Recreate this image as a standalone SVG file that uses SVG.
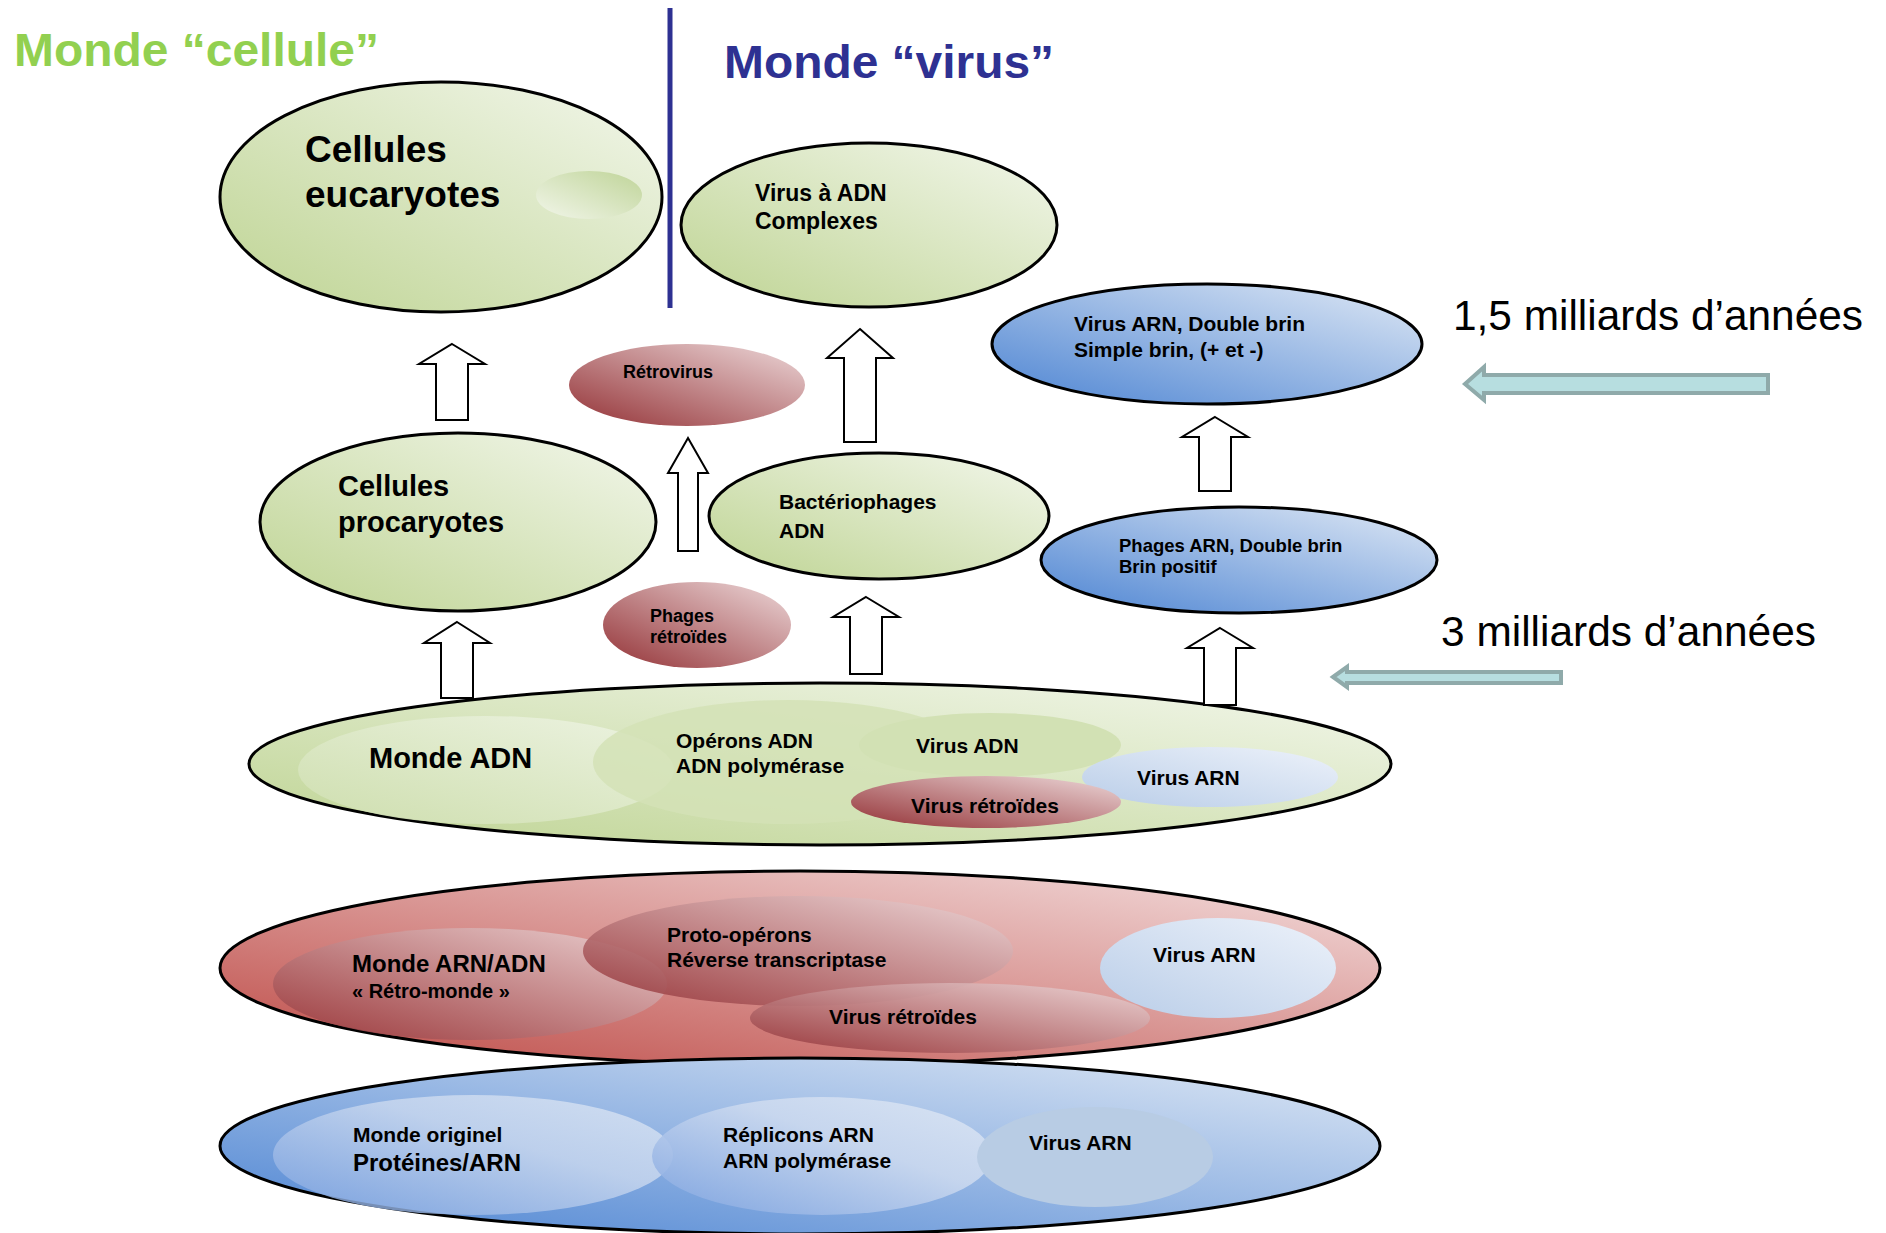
<svg xmlns="http://www.w3.org/2000/svg" width="1886" height="1233" viewBox="0 0 1886 1233">
<defs>
<linearGradient id="gGreen" x1="0" y1="1" x2="1" y2="0"><stop offset="0.15" stop-color="#C6D9A0"/><stop offset="1" stop-color="#F3F7EC"/></linearGradient>
<linearGradient id="gGreenIn" x1="0" y1="1" x2="1" y2="0"><stop offset="0" stop-color="#CFDFB0"/><stop offset="1" stop-color="#EEF4E4"/></linearGradient>
<linearGradient id="gGreenRev" x1="0" y1="1" x2="1" y2="0"><stop offset="0" stop-color="#F2F6EA"/><stop offset="1" stop-color="#BFD498"/></linearGradient>
<linearGradient id="gBlue" x1="0" y1="1" x2="1" y2="0"><stop offset="0.1" stop-color="#5B8ED6"/><stop offset="1" stop-color="#E0E9F5"/></linearGradient>
<linearGradient id="gBlueIn" x1="0" y1="1" x2="1" y2="0"><stop offset="0" stop-color="#7FA4E0"/><stop offset="0.6" stop-color="#CBD9EF"/><stop offset="1" stop-color="#DCE6F4"/></linearGradient>
<linearGradient id="gBlueLight" x1="0" y1="1" x2="1" y2="0"><stop offset="0" stop-color="#B9CDE8"/><stop offset="1" stop-color="#EDF2FA"/></linearGradient>
<linearGradient id="gRed" x1="0" y1="1" x2="1" y2="0"><stop offset="0.1" stop-color="#C35955"/><stop offset="1" stop-color="#F4E0E0"/></linearGradient>
<linearGradient id="gRedIn" x1="0" y1="1" x2="1" y2="0"><stop offset="0.05" stop-color="#983A3E"/><stop offset="1" stop-color="#EDD9DA"/></linearGradient>
<style>
.big{stroke:#000;stroke-width:3}
.t{font-family:"Liberation Sans",Arial,sans-serif;font-weight:bold;fill:#000}
.r{font-family:"Liberation Sans",Arial,sans-serif;fill:#000}
.up{fill:#fff;stroke:#000;stroke-width:2;stroke-linejoin:miter}
.time{fill:#B7DEE0;stroke:#8FAAAA;stroke-width:4}
</style>
</defs>
<rect width="1886" height="1233" fill="#fff"/>
<text class="t" x="14" y="66" font-size="47" fill="#92D050" style="fill:#92D050" textLength="365" lengthAdjust="spacingAndGlyphs">Monde “cellule”</text>
<line x1="670" y1="8" x2="670" y2="308" stroke="#2E3192" stroke-width="5"/>
<text class="t" x="724" y="78" font-size="47" style="fill:#2E3192" textLength="330" lengthAdjust="spacingAndGlyphs">Monde “virus”</text>

<g id="eucaryotes">
<ellipse class="big" cx="441" cy="197" rx="221" ry="115" fill="url(#gGreen)"/>
<ellipse cx="589" cy="195" rx="53" ry="24" fill="url(#gGreenRev)"/>
<text class="t" x="305" y="162" font-size="37">Cellules</text>
<text class="t" x="305" y="207" font-size="37">eucaryotes</text>
</g>
<g id="virus-adn-complexes">
<ellipse class="big" cx="869" cy="225" rx="188" ry="82" fill="url(#gGreen)"/>
<text class="t" x="755" y="201" font-size="23">Virus à ADN</text>
<text class="t" x="755" y="229" font-size="23">Complexes</text>
</g>
<g id="virus-arn-double">
<ellipse class="big" cx="1207" cy="344" rx="215" ry="60" fill="url(#gBlue)"/>
<text class="t" x="1074" y="331" font-size="21">Virus ARN, Double brin</text>
<text class="t" x="1074" y="357" font-size="21">Simple brin, (+ et -)</text>
</g>
<g id="label-15">
<text class="r" x="1453" y="330" font-size="42" textLength="410" lengthAdjust="spacingAndGlyphs">1,5 milliards d’années</text>
</g>
<g id="label-3">
<text class="r" x="1441" y="646" font-size="42" textLength="375" lengthAdjust="spacingAndGlyphs">3 milliards d’années</text>
</g>
<g id="retrovirus">
<ellipse cx="687" cy="385" rx="118" ry="41" fill="url(#gRedIn)"/>
<text class="t" x="623" y="378" font-size="18">Rétrovirus</text>
</g>
<g id="procaryotes">
<ellipse class="big" cx="458" cy="522" rx="198" ry="89" fill="url(#gGreen)"/>
<text class="t" x="338" y="496" font-size="29">Cellules</text>
<text class="t" x="338" y="532" font-size="29">procaryotes</text>
</g>
<g id="bacteriophages">
<ellipse class="big" cx="879" cy="516" rx="170" ry="63" fill="url(#gGreen)"/>
<text class="t" x="779" y="509" font-size="21">Bactériophages</text>
<text class="t" x="779" y="538" font-size="21">ADN</text>
</g>
<g id="phages-arn">
<ellipse class="big" cx="1239" cy="560" rx="198" ry="53" fill="url(#gBlue)"/>
<text class="t" x="1119" y="552" font-size="18.5">Phages ARN, Double brin</text>
<text class="t" x="1119" y="573" font-size="18.5">Brin positif</text>
</g>
<g id="phages-retroides">
<ellipse cx="697" cy="625" rx="94" ry="43" fill="url(#gRedIn)"/>
<text class="t" x="650" y="622" font-size="18">Phages</text>
<text class="t" x="650" y="643" font-size="18">rétroïdes</text>
</g>

<g id="monde-adn">
<ellipse class="big" cx="820" cy="764" rx="571" ry="81" fill="url(#gGreen)"/>
<ellipse cx="486" cy="770" rx="188" ry="54" fill="url(#gGreenIn)" opacity="0.9"/>
<ellipse cx="788" cy="762" rx="195" ry="62" fill="#D3E2B6" opacity="0.85"/>
<ellipse cx="990" cy="745" rx="131" ry="32" fill="#D2E1B4"/>
<ellipse cx="1210" cy="777" rx="128" ry="30" fill="url(#gBlueLight)"/>
<ellipse cx="986" cy="802" rx="135" ry="26" fill="url(#gRedIn)"/>
<text class="t" x="369" y="768" font-size="29">Monde ADN</text>
<text class="t" x="676" y="748" font-size="21">Opérons ADN</text>
<text class="t" x="676" y="773" font-size="21">ADN polymérase</text>
<text class="t" x="916" y="753" font-size="21">Virus ADN</text>
<text class="t" x="1137" y="785" font-size="21">Virus ARN</text>
<text class="t" x="911" y="813" font-size="21">Virus rétroïdes</text>
</g>

<g id="monde-arn-adn">
<ellipse class="big" cx="800" cy="968" rx="580" ry="97" fill="url(#gRed)"/>
<ellipse cx="470" cy="984" rx="197" ry="56" fill="url(#gRedIn)" opacity="0.85"/>
<ellipse cx="798" cy="951" rx="215" ry="55" fill="url(#gRedIn)" opacity="0.9"/>
<ellipse cx="950" cy="1018" rx="200" ry="35" fill="url(#gRedIn)" opacity="0.9"/>
<ellipse cx="1218" cy="968" rx="118" ry="50" fill="url(#gBlueLight)"/>
<text class="t" x="352" y="972" font-size="24">Monde ARN/ADN</text>
<text class="t" x="352" y="998" font-size="20">« Rétro-monde »</text>
<text class="t" x="667" y="942" font-size="21">Proto-opérons</text>
<text class="t" x="667" y="967" font-size="21">Réverse transcriptase</text>
<text class="t" x="829" y="1024" font-size="21">Virus rétroïdes</text>
<text class="t" x="1153" y="962" font-size="21">Virus ARN</text>
</g>

<g id="monde-originel">
<ellipse class="big" cx="800" cy="1146" rx="580" ry="88" fill="url(#gBlue)"/>
<ellipse cx="473" cy="1155" rx="200" ry="60" fill="url(#gBlueIn)" opacity="0.8"/>
<ellipse cx="822" cy="1156" rx="170" ry="59" fill="url(#gBlueIn)" opacity="0.9"/>
<ellipse cx="1095" cy="1157" rx="118" ry="50" fill="#B8CCE4"/>
<text class="t" x="353" y="1142" font-size="21">Monde originel</text>
<text class="t" x="353" y="1171" font-size="24">Protéines/ARN</text>
<text class="t" x="723" y="1142" font-size="21">Réplicons ARN</text>
<text class="t" x="723" y="1168" font-size="21">ARN polymérase</text>
<text class="t" x="1029" y="1150" font-size="21">Virus ARN</text>
</g>

<g id="connectors">
<polygon class="up" points="452,344 485,364 468,364 468,420 436,420 436,364 419,364"/>
<polygon class="up" points="457,622 490,643 473,643 473,698 441,698 441,643 424,643"/>
<polygon class="up" points="688,438 708,473 698,473 698,551 678,551 678,473 668,473"/>
<polygon class="up" points="860,329 893,358 876,358 876,442 844,442 844,358 827,358"/>
<polygon class="up" points="866,597 899,617 882,617 882,674 850,674 850,617 833,617"/>
<polygon class="up" points="1215,417 1248,437 1231,437 1231,491 1199,491 1199,437 1182,437"/>
<polygon class="up" points="1220,628 1253,648 1236,648 1236,705 1204,705 1204,648 1187,648"/>
<polygon class="time" points="1465,384 1484,367 1484,375 1768,375 1768,393 1484,393 1484,400"/>
<polygon class="time" points="1333,677 1347,667 1347,672 1561,672 1561,683 1347,683 1347,687"/>
</g>
</svg>
